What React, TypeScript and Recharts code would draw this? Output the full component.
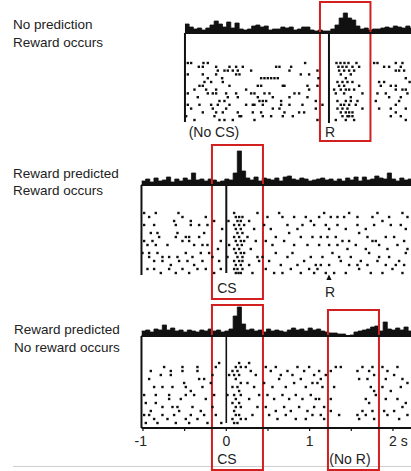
import React from 'react';
import {
  ComposedChart,
  Area,
  Scatter,
  XAxis,
  YAxis,
  ReferenceLine,
  ReferenceArea,
  ReferenceDot,
} from 'recharts';

// ---------------- data ----------------
const BIN = 0.05; // s, histogram bin width
const CS_TIME = 0;
const R_TIME = 1.232;

// peri-event histograms (bin heights)
const hist1Start = -0.496;
const hist1 = [9, 6, 4, 5, 3, 5, 8, 12, 9, 6, 11, 5, 10, 4, 3, 4, 7, 8, 6, 7, 3, 4, 4, 6, 5, 6, 3, 4, 6, 6, 3, 2, 3, 2, 2, 4, 8, 15, 20, 15, 13, 7, 4, 5, 3, 4, 4, 5, 6, 5, 7, 6, 5, 7, 5];
const hist2Start = -1.018;
const hist2 = [4, 6, 3, 7, 4, 5, 8, 3, 6, 4, 7, 5, 12, 5, 6, 4, 6, 5, 3, 4, 6, 5, 12, 34, 14, 7, 5, 8, 4, 7, 6, 5, 7, 4, 8, 9, 6, 5, 7, 6, 4, 5, 6, 7, 5, 6, 4, 6, 4, 7, 5, 8, 4, 8, 5, 6, 9, 7, 6, 12, 6, 4, 7, 5, 6];
const hist3Start = -1.018;
const hist3 = [5, 6, 4, 7, 6, 11, 6, 8, 5, 6, 4, 6, 5, 4, 6, 5, 7, 5, 6, 4, 5, 7, 20, 29, 12, 6, 7, 5, 6, 4, 7, 5, 6, 5, 4, 6, 8, 6, 7, 5, 8, 6, 7, 5, 4, 3, 3, 2, 2, 0, 1, 4, 5, 6, 7, 9, 10, 5, 14, 7, 6, 8, 6, 9, 5];

// rasters: [time (s), trial]
const raster1: number[][] = [
  [-0.462, 1], [-0.422, 1], [-0.33, 2], [-0.274, 1], [-0.222, 1], [-0.282, 2], [-0.122, 2], [-0.102, 3], [-0.022, 3], [0.018, 3], [0.038, 2], [0.078, 3], [0.118, 2], [0.138, 3], [0.198, 2], [0.298, 3], [0.598, 2], [0.638, 2], [0.778, 2], [0.758, 3],
  [-0.462, 4], [-0.282, 4], [-0.222, 5], [-0.122, 4], [-0.05, 5], [0.118, 4], [0.158, 4],
  [0.418, 5], [0.458, 5], [0.498, 5], [0.538, 5], [0.578, 5], [0.618, 5],
  [-0.262, 6], [-0.182, 6], [-0.322, 7], [-0.282, 7], [-0.042, 6], [0.038, 7], [0.378, 7], [0.418, 7], [0.678, 7], [0.698, 7],
  [-0.382, 8], [-0.242, 8], [-0.122, 8], [-0.002, 9], [0.238, 8], [0.338, 9], [0.458, 9], [0.518, 9],
  [-0.462, 9], [-0.342, 10], [-0.222, 9], [-0.162, 9], [-0.122, 9], [-0.082, 11], [0.018, 10], [0.118, 9], [0.138, 10], [0.298, 9], [0.378, 10], [0.558, 10], [0.658, 11], [0.758, 10], [0.818, 9],
  [0.398, 11], [0.438, 11], [0.478, 11],
  [-0.462, 12], [-0.322, 12], [-0.182, 12], [-0.102, 12], [-0.022, 11], [0.038, 12], [0.238, 12], [0.318, 12], [0.338, 12], [0.438, 12], [0.558, 13], [0.658, 12], [0.758, 12],
  [-0.422, 13], [-0.282, 14], [-0.162, 13], [-0.122, 14], [-0.042, 14], [-0.002, 13], [0.138, 14], [0.158, 15], [0.318, 14], [0.418, 14], [0.638, 13], [0.698, 14],
  [-0.482, 15], [-0.382, 16], [-0.142, 15], [-0.082, 16], [-0.022, 16], [0.078, 16], [0.178, 15], [0.338, 16], [0.438, 15], [0.538, 15], [0.678, 15], [0.798, 15],
  [0.946, 1], [0.894, 4], [0.994, 4], [1.094, 3], [1.106, 5], [0.974, 7], [0.994, 8], [1.094, 7], [0.874, 9], [0.974, 10], [1.074, 11], [0.914, 12], [1.154, 12], [1.074, 13], [0.874, 14], [0.934, 14], [1.094, 16],
  [1.322, 1], [1.346, 2], [1.37, 1], [1.394, 2], [1.418, 1], [1.442, 2], [1.466, 1], [1.514, 2], [1.562, 1], [1.594, 2],
  [1.354, 3], [1.414, 3], [1.474, 3], [1.534, 3], [1.374, 4], [1.434, 5], [1.494, 4],
  [1.334, 6], [1.394, 6], [1.454, 6], [1.514, 6], [1.354, 7], [1.414, 7], [1.474, 8], [1.594, 7],
  [1.294, 8], [1.374, 8], [1.434, 8], [1.534, 8], [1.314, 9], [1.414, 9], [1.494, 10], [1.634, 9],
  [1.334, 11], [1.434, 11], [1.494, 11], [1.574, 11], [1.374, 12], [1.414, 12], [1.474, 12], [1.554, 12],
  [1.334, 13], [1.394, 13], [1.454, 13], [1.514, 14], [1.634, 13], [1.374, 14], [1.434, 14], [1.454, 15], [1.474, 14], [1.514, 15],
  [1.394, 15], [1.434, 16], [1.474, 15], [1.314, 16], [1.534, 16],
  [1.774, 1], [1.814, 1], [1.894, 2], [1.954, 2], [2.034, 1], [2.094, 2], [2.114, 1], [2.034, 3], [2.134, 3], [2.074, 3],
  [1.834, 6], [1.894, 6], [2.154, 5], [2.2, 6], [1.854, 7], [1.974, 7], [2.034, 7], [2.114, 8], [1.814, 9], [2.034, 8], [2.154, 8],
  [1.914, 9], [1.954, 10], [2.094, 10], [2.174, 9], [1.794, 11], [2.034, 12], [2.074, 11],
  [1.834, 13], [1.974, 13], [2.034, 14], [2.154, 13], [1.974, 15], [2.094, 15], [2.154, 16],
];

const raster2: number[][] = [
  [-0.986, 1], [-0.926, 2], [-0.846, 1], [-0.574, 1], [-0.526, 2], [-0.246, 2], [-0.146, 3],
  [-0.986, 4], [-0.866, 4], [-0.626, 3], [-0.606, 4], [-0.426, 3], [-0.426, 4], [-0.326, 4], [-0.226, 4],
  [-0.906, 6], [-0.826, 6], [-0.806, 7], [-0.586, 6], [-0.606, 7], [-0.486, 7], [-0.446, 7], [-0.326, 7], [-0.266, 6],
  [-0.986, 8], [-0.886, 8], [-0.946, 9], [-0.846, 9], [-0.706, 9], [-0.526, 8], [-0.446, 8], [-0.386, 9], [-0.286, 9], [-0.226, 9], [-0.066, 8],
  [-1.006, 11], [-0.926, 11], [-0.826, 11], [-0.766, 12], [-0.686, 12], [-0.586, 12], [-0.486, 11], [-0.406, 12], [-0.306, 11], [-0.206, 11], [-0.166, 12],
  [-0.926, 12], [-0.866, 13], [-0.766, 13], [-0.666, 14], [-0.566, 13], [-0.466, 13], [-0.386, 14], [-0.286, 13], [-0.086, 13],
  [-0.946, 15], [-0.866, 15], [-0.786, 16], [-0.686, 15], [-0.606, 16], [-0.526, 15], [-0.446, 16], [-0.346, 15], [-0.246, 15], [-0.146, 16], [-0.066, 15],
  [-0.1, 10], [-0.05, 5],
  [0.094, 1], [0.154, 2], [0.114, 2], [0.194, 2], [0.134, 3], [0.174, 3], [0.094, 4], [0.154, 4], [0.214, 4], [0.114, 5], [0.174, 5], [0.134, 6], [0.194, 6], [0.094, 7], [0.154, 7], [0.114, 8], [0.174, 8], [0.214, 8], [0.134, 9], [0.186, 9], [0.094, 10], [0.154, 10], [0.114, 11], [0.174, 11], [0.214, 11], [0.134, 12], [0.194, 12], [0.094, 13], [0.154, 13], [0.194, 13], [0.114, 14], [0.174, 14], [0.134, 15], [0.194, 15], [0.094, 15], [0.114, 16], [0.174, 16], [0.146, 16],
  [0.274, 3], [0.374, 1], [0.334, 5], [0.254, 7], [0.354, 8], [0.294, 10], [0.374, 12], [0.274, 14], [0.394, 13], [0.314, 16], [0.026, 3], [0.034, 9], [0.014, 12],
  [0.454, 4], [0.494, 2], [0.534, 5], [0.634, 1], [0.674, 2], [0.734, 4], [0.814, 2], [0.854, 5], [0.914, 4], [0.954, 2], [1.014, 3], [1.054, 4],
  [0.474, 8], [0.554, 9], [0.594, 7], [0.694, 8], [0.754, 6], [0.814, 9], [0.894, 7], [0.974, 9], [1.034, 7],
  [0.434, 12], [0.514, 13], [0.594, 11], [0.654, 14], [0.734, 12], [0.794, 11], [0.854, 14], [0.934, 13], [1.014, 12], [1.074, 14],
  [0.474, 15], [0.574, 16], [0.674, 16], [0.774, 15], [0.894, 16], [0.994, 15], [1.054, 16],
  [1.114, 2], [1.174, 1], [1.254, 2], [1.334, 2], [1.414, 2], [1.474, 1], [1.574, 2], [1.754, 2], [1.814, 1], [1.954, 2], [2.114, 1], [2.174, 2],
  [1.194, 4], [1.234, 5], [1.334, 4], [1.434, 5], [1.574, 4], [1.674, 5], [1.774, 4], [1.874, 3], [1.974, 4], [2.094, 4], [2.154, 5],
  [1.134, 7], [1.214, 7], [1.314, 7], [1.394, 8], [1.474, 8], [1.594, 6], [1.694, 7], [1.794, 8], [1.914, 7], [2.014, 7], [2.134, 8],
  [1.114, 9], [1.234, 9], [1.334, 9], [1.454, 10], [1.554, 9], [1.674, 10], [1.754, 8], [1.834, 9], [1.934, 10], [2.054, 9], [2.174, 10],
  [1.154, 12], [1.274, 11], [1.354, 12], [1.494, 12], [1.614, 13], [1.714, 11], [1.834, 12], [1.954, 12], [2.074, 13], [2.154, 11],
  [1.134, 14], [1.234, 14], [1.374, 13], [1.474, 14], [1.574, 14], [1.694, 14], [1.814, 13], [1.914, 14], [2.034, 14], [2.134, 14],
  [1.094, 15], [1.194, 16], [1.294, 16], [1.434, 16], [1.594, 15], [1.734, 16], [1.874, 16], [1.994, 15], [2.114, 16],
];

const raster3: number[][] = [
  [-0.906, 3], [-0.746, 2], [-0.666, 3], [-0.526, 2], [-0.526, 3], [-0.346, 2], [-0.346, 3], [-0.126, 2], [-0.086, 1],
  [-0.926, 5], [-0.786, 4], [-0.666, 4], [-0.506, 6], [-0.326, 5], [-0.266, 5], [-0.166, 4],
  [-0.866, 7], [-0.766, 7], [-0.646, 7], [-0.486, 7], [-0.426, 8], [-0.286, 7], [-0.186, 6],
  [-0.986, 9], [-0.846, 9], [-0.686, 9], [-0.686, 10], [-0.546, 10], [-0.486, 9], [-0.386, 9], [-0.246, 10], [-0.146, 9],
  [-0.966, 11], [-0.906, 13], [-0.846, 11], [-0.766, 12], [-0.646, 12], [-0.586, 12], [-0.566, 13], [-0.406, 12], [-0.306, 13], [-0.166, 12],
  [-0.986, 14], [-0.926, 14], [-0.866, 15], [-0.766, 14], [-0.706, 15], [-0.626, 14], [-0.486, 15], [-0.426, 14], [-0.346, 15], [-0.266, 14], [-0.126, 14],
  [-0.966, 16], [-0.826, 16], [-0.606, 16], [-0.446, 16], [-0.226, 16], [-0.06, 16],
  [0.114, 2], [0.154, 1], [0.074, 3], [0.134, 3], [0.174, 2], [0.094, 4], [0.154, 4], [0.114, 5], [0.174, 6], [0.074, 7], [0.134, 7], [0.154, 8], [0.094, 9], [0.174, 9], [0.114, 10], [0.074, 11], [0.154, 11], [0.114, 12], [0.174, 12], [0.094, 13], [0.154, 14], [0.114, 14], [0.174, 15], [0.074, 15], [0.134, 16], [0.094, 16],
  [0.234, 2], [0.274, 1], [0.294, 3], [0.254, 6], [0.354, 4], [0.334, 7], [0.274, 10], [0.374, 12], [0.314, 14], [0.234, 15], [0.394, 9], [0.034, 4], [0.014, 9],
  [0.474, 2], [0.534, 3], [0.594, 2], [0.654, 4], [0.734, 3], [0.794, 4], [0.854, 2], [0.934, 3], [0.994, 2], [1.054, 4],
  [0.454, 6], [0.554, 7], [0.634, 5], [0.714, 7], [0.814, 6], [0.894, 5], [0.954, 7], [1.034, 6],
  [0.494, 9], [0.574, 10], [0.674, 9], [0.754, 10], [0.834, 9], [0.914, 10], [1.014, 9], [1.074, 10],
  [0.474, 12], [0.594, 13], [0.694, 12], [0.774, 13], [0.874, 12], [0.974, 13], [1.054, 12],
  [0.514, 14], [0.614, 15], [0.714, 14], [0.834, 15], [0.954, 15], [1.034, 14],
  [1.314, 2], [1.374, 2], [1.254, 3], [1.294, 7], [1.254, 10], [1.254, 13], [1.354, 14],
  [1.574, 3], [1.634, 2], [1.714, 3], [1.754, 2], [1.774, 4], [1.594, 5], [1.694, 5], [1.734, 7], [1.774, 8], [1.794, 9], [1.674, 10], [1.714, 11], [1.754, 13], [1.634, 13], [1.574, 14], [1.674, 14], [1.774, 15], [1.594, 15],
  [1.114, 3], [1.134, 5], [1.094, 6], [1.154, 7], [1.194, 4], [1.114, 10], [1.174, 12], [1.134, 14], [1.174, 15],
  [1.874, 2], [1.934, 3], [2.054, 2], [1.914, 5], [2.014, 4], [2.114, 5], [1.874, 7], [1.974, 8], [2.094, 7], [2.174, 6], [1.914, 10], [2.054, 10], [2.154, 11], [1.894, 13], [2.014, 13], [2.114, 12], [1.934, 14], [2.074, 15], [2.174, 14],
];

// axis ticks
const tickValues = [-1, -0.5, 0, 0.5, 1, 1.5, 2];
const tickLabels = ['-1', '', '0', '', '1', '', '2 s'];

// condition labels
const conditionLines = [
  ['No prediction', 'Reward occurs'],
  ['Reward predicted', 'Reward occurs'],
  ['Reward predicted', 'No reward occurs'],
];

// ---------------- layout ----------------
const FONT = '"Liberation Sans", Arial, Helvetica, sans-serif';
const INK = '#111';
const TEXT = '#222';
const RED = '#d21f1f';
const W = 411;
const PLOT_LEFT = 141.5;
const T_MIN = -1.0176;
const T_MAX = 2.2165;

const toHist = (start: number, arr: number[]) => {
  const pts = arr.map((h, i) => ({ t: start + i * BIN, h }));
  pts.push({ t: start + arr.length * BIN, h: arr[arr.length - 1] });
  return pts;
};
const toDots = (arr: number[][]) => arr.map(([t, trial]) => ({ t, trial }));

const Square = (p: any) => (
  <rect x={p.cx - 1.2} y={p.cy - 1.2} width={2.4} height={2.4} fill={INK} />
);
const Triangle = (p: any) => (
  <polygon
    points={`${p.cx},${p.cy - 3} ${p.cx - 2.6},${p.cy + 2.6} ${p.cx + 2.6},${p.cy + 2.6}`}
    fill={INK}
  />
);

const TimeTick = (props: any) => {
  const { x, y, payload } = props;
  const idx = tickValues.indexOf(payload.value);
  const label = idx >= 0 ? tickLabels[idx] : '';
  if (!label) return null;
  let anchor: 'middle' | 'start' | 'end' = 'middle';
  let tx = x;
  if (label.startsWith('-')) {
    anchor = 'end';
    tx = x + 4;
  } else if (label.length > 1) {
    anchor = 'start';
    tx = x - 4;
  }
  return (
    <text x={tx} y={y} dy="0.71em" textAnchor={anchor} fontSize={14} fill={TEXT} fontFamily={FONT}>
      {label}
    </text>
  );
};

type Box = { t1: number; t2: number; h1: number; h2: number };
type Lbl = { t: number; h: number; text: string };
type VLine = { t: number; bottom: number; w: number };

type PanelProps = {
  top: number;
  height: number;
  plotTop: number;
  plotBottom: number;
  baseY: number;
  row1Y: number;
  rowStep: number;
  histStart: number;
  hist: { t: number; h: number }[];
  dots: { t: number; trial: number }[];
  vlines: VLine[];
  boxes: Box[];
  labels: Lbl[];
  triangle?: { t: number; h: number };
  showAxis?: boolean;
};

const Panel = (p: PanelProps) => {
  const axisH = p.showAxis ? 30 : 0;
  const marginTop = p.plotTop - p.top;
  const marginBottom = p.top + p.height - p.plotBottom - axisH;
  const histDomain = [p.baseY - p.plotBottom, p.baseY - p.plotTop];
  const trialDomain = [1 + (p.plotTop - p.row1Y) / p.rowStep, 1 + (p.plotBottom - p.row1Y) / p.rowStep];
  return (
    <div style={{ position: 'absolute', left: 0, top: p.top, width: W, height: p.height }}>
      <ComposedChart
        width={W}
        height={p.height}
        margin={{ top: marginTop, bottom: marginBottom, left: PLOT_LEFT, right: 0 }}
      >
        <XAxis
          type="number"
          dataKey="t"
          domain={[T_MIN, T_MAX]}
          allowDataOverflow
          hide={!p.showAxis}
          ticks={tickValues}
          interval={0}
          height={30}
          tickSize={3}
          tickMargin={5}
          axisLine={{ stroke: INK, strokeWidth: 2 }}
          tickLine={{ stroke: INK, strokeWidth: 1.2 }}
          tick={<TimeTick />}
        />
        <YAxis yAxisId="h" type="number" dataKey="h" domain={histDomain} allowDataOverflow hide />
        <YAxis yAxisId="r" type="number" dataKey="trial" domain={trialDomain} reversed allowDataOverflow hide />
        <Area
          yAxisId="h"
          data={p.hist}
          dataKey="h"
          type="stepAfter"
          baseValue={0}
          stroke={INK}
          strokeWidth={0.8}
          fill={INK}
          fillOpacity={1}
          dot={false}
          activeDot={false}
          isAnimationActive={false}
        />
        <ReferenceLine
          yAxisId="h"
          segment={[{ x: p.histStart, y: 0 }, { x: T_MAX, y: 0 }]}
          stroke={INK}
          strokeWidth={2}
          ifOverflow="visible"
        />
        {p.vlines.map((v, i) => (
          <ReferenceLine
            key={'v' + i}
            yAxisId="h"
            segment={[{ x: v.t, y: 0 }, { x: v.t, y: v.bottom }]}
            stroke={INK}
            strokeWidth={v.w}
            ifOverflow="visible"
          />
        ))}
        <Scatter yAxisId="r" data={p.dots} dataKey="trial" shape={Square} isAnimationActive={false} />
        {p.triangle && (
          <ReferenceDot
            yAxisId="h"
            x={p.triangle.t}
            y={p.triangle.h}
            r={3}
            ifOverflow="visible"
            shape={Triangle}
          />
        )}
        {p.labels.map((l, i) => (
          <ReferenceDot
            key={'l' + i}
            yAxisId="h"
            x={l.t}
            y={l.h}
            r={0.5}
            fill="none"
            stroke="none"
            ifOverflow="visible"
            label={{ value: l.text, position: 'center', fontSize: 14, fill: TEXT, fontFamily: FONT }}
          />
        ))}
        {p.boxes.map((b, i) => (
          <ReferenceArea
            key={'b' + i}
            yAxisId="h"
            x1={b.t1}
            x2={b.t2}
            y1={b.h1}
            y2={b.h2}
            fill="none"
            fillOpacity={0}
            stroke={RED}
            strokeWidth={2}
            ifOverflow="visible"
          />
        ))}
      </ComposedChart>
    </div>
  );
};

export default function App() {
  const labelBlocks = [
    { x: 13, y: 29 },
    { x: 13, y: 177.5 },
    { x: 14, y: 334 },
  ];
  return (
    <div
      style={{
        position: 'absolute',
        left: 0,
        top: 0,
        width: W,
        height: 471,
        background: '#fff',
        fontFamily: FONT,
        overflow: 'hidden',
      }}
    >
      <svg width={W} height={471} style={{ position: 'absolute', left: 0, top: 0 }}>
        {conditionLines.map((lines, bi) =>
          lines.map((s, li) => (
            <text
              key={bi + '-' + li}
              x={labelBlocks[bi].x}
              y={labelBlocks[bi].y + li * 17.8}
              fontSize={13.5}
              fill={TEXT}
              fontFamily={FONT}
            >
              {s}
            </text>
          ))
        )}
        <line x1={13} x2={W} y1={466.5} y2={466.5} stroke="#cfcfcf" strokeWidth={1} />
      </svg>

      <Panel
        top={0}
        height={145}
        plotTop={2}
        plotBottom={126}
        baseY={33}
        row1Y={63}
        rowStep={3.8}
        histStart={hist1Start}
        hist={toHist(hist1Start, hist1)}
        dots={toDots(raster1)}
        vlines={[
          { t: hist1Start, bottom: -89, w: 2 },
          { t: R_TIME, bottom: -90, w: 2 },
        ]}
        boxes={[{ t1: 1.124, t2: 1.73, h1: 31, h2: -108 }]}
        labels={[
          { t: -0.148, h: -98.7, text: '(No CS)' },
          { t: 1.244, h: -98.7, text: 'R' },
        ]}
      />

      <Panel
        top={143}
        height={160}
        plotTop={145}
        plotBottom={280}
        baseY={185}
        row1Y={213}
        rowStep={4}
        histStart={hist2Start}
        hist={toHist(hist2Start, hist2)}
        dots={toDots(raster2)}
        vlines={[
          { t: hist2Start, bottom: -90, w: 2 },
          { t: CS_TIME, bottom: -88, w: 2 },
        ]}
        boxes={[{ t1: -0.172, t2: 0.44, h1: 40, h2: -114 }]}
        labels={[
          { t: 0.008, h: -103, text: 'CS' },
          { t: 1.244, h: -107, text: 'R' },
        ]}
        triangle={{ t: R_TIME, h: -92.5 }}
      />

      <Panel
        top={302}
        height={169}
        plotTop={304}
        plotBottom={428}
        baseY={336}
        row1Y={363}
        rowStep={4}
        histStart={hist3Start}
        hist={toHist(hist3Start, hist3)}
        dots={toDots(raster3)}
        vlines={[
          { t: hist3Start, bottom: -92, w: 2 },
          { t: CS_TIME, bottom: -87, w: 1.6 },
        ]}
        boxes={[
          { t1: -0.172, t2: 0.44, h1: 31, h2: -134 },
          { t1: 1.22, t2: 1.832, h1: 26, h2: -134 },
        ]}
        labels={[
          { t: 0.008, h: -123, text: 'CS' },
          { t: 1.484, h: -123, text: '(No R)' },
        ]}
        showAxis
      />
    </div>
  );
}
